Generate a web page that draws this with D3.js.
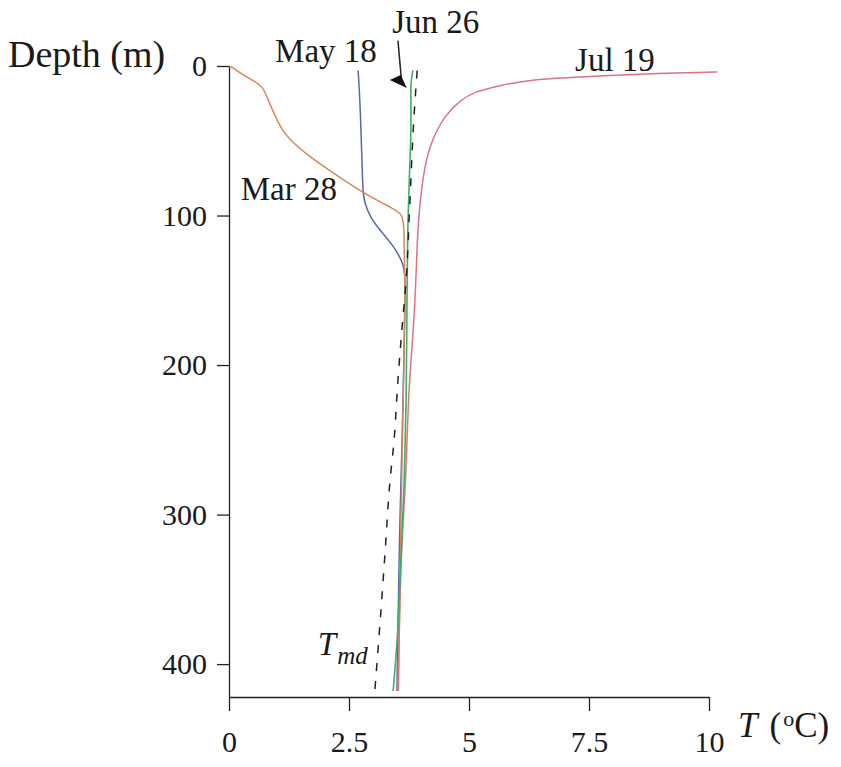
<!DOCTYPE html>
<html>
<head>
<meta charset="utf-8">
<script src="https://cdn.jsdelivr.net/npm/d3@7.9.0/dist/d3.min.js"></script>
<style>
  body { margin: 0; background: #fff; }
  svg text { font-family: "Liberation Serif", "Times New Roman", serif; fill: #1a1a1a; }
</style>
</head>
<body>
<svg id="chart" width="841" height="767"></svg>
<script>
// temperature (deg C) and depth (m) pairs
const mar28 = [[0,0],[0.08,1],[0.33,7],[0.71,13],[0.79,21],[1.02,38],[1.21,48],[1.69,61],[2.1,70],
  [2.79,85],[3.46,96],[3.6,99],[3.65,106],[3.65,130],[3.67,150],[3.65,190],[3.58,300],[3.53,418]];
const may18 = [[2.69,3],[2.73,23],[2.77,63],[2.79,85],[2.83,92],[2.94,101],[3.15,110],[3.42,120],
  [3.6,130],[3.67,137],[3.67,157],[3.63,223],[3.54,324],[3.5,418]];
const jun26 = [[3.83,3],[3.79,14],[3.79,40],[3.77,63],[3.73,103],[3.71,150],[3.69,223],[3.65,277],
  [3.58,331],[3.5,385],[3.42,418]];
const jul19 = [[10.17,4],[8.77,5],[7.52,7],[6.27,9],[5.65,13],[5.13,17],[4.81,23],[4.5,33],[4.23,49],
  [4.08,66],[3.98,90],[3.92,116],[3.88,157],[3.81,190],[3.73,223],[3.69,277],[3.58,324],[3.52,418]];
const tmd = [[3.92,3],[3.85,36],[3.77,90],[3.69,143],[3.6,177],[3.52,210],[3.44,250],[3.35,279],
  [3.25,326],[3.15,371],[3.04,417]];

const xTicks = [0, 2.5, 5, 7.5, 10];
const yTicks = [0, 100, 200, 300, 400];

const svg = d3.select('#chart');

const x = d3.scaleLinear().domain([0, 10]).range([229, 709]);
const y = d3.scaleLinear().domain([0, 422]).range([66, 697]);

// axes
const xAxis = svg.append('g')
  .attr('transform', `translate(0,${y(422)})`)
  .call(d3.axisBottom(x).tickValues(xTicks).tickSize(14).tickSizeOuter(0)
    .tickFormat(d => d));
const yAxis = svg.append('g')
  .attr('transform', `translate(${x(0)},0)`)
  .call(d3.axisLeft(y).tickValues(yTicks).tickSize(12).tickSizeOuter(0).tickPadding(10));

[xAxis, yAxis].forEach(g => {
  g.select('.domain').attr('stroke', '#222').attr('stroke-width', 1.3);
  g.selectAll('.tick line').attr('stroke', '#222').attr('stroke-width', 1.3);
  g.selectAll('.tick text').attr('font-size', 30).attr('font-family', '"Liberation Serif", serif').attr('fill', '#1a1a1a');
});
xAxis.selectAll('.tick text').attr('y', 55).attr('dy', 0);

// profiles
const line = d3.line().x(d => x(d[0])).y(d => y(d[1])).curve(d3.curveMonotoneY);
const smooth = d3.line().x(d => x(d[0])).y(d => y(d[1])).curve(d3.curveBasis);

svg.append('path').attr('d', smooth(may18)).attr('fill', 'none').attr('stroke', '#5568a8').attr('stroke-width', 1.5);
svg.append('path').attr('d', smooth(mar28)).attr('fill', 'none').attr('stroke', '#d6895a').attr('stroke-width', 1.5);
svg.append('path').attr('d', smooth(jul19)).attr('fill', 'none').attr('stroke', '#de7383').attr('stroke-width', 1.5);
svg.append('path').attr('d', line(jun26)).attr('fill', 'none').attr('stroke', '#3fae6a').attr('stroke-width', 1.6);
svg.append('path').attr('d', line(tmd)).attr('fill', 'none').attr('stroke', '#222')
  .attr('stroke-width', 1.5).attr('stroke-dasharray', '8,10');

// Jun 26 arrow
const arrowTail = [3.52, -17];
const arrowTip = [3.6, 12];
svg.append('line')
  .attr('x1', x(arrowTail[0])).attr('y1', y(arrowTail[1]))
  .attr('x2', x(arrowTip[0])).attr('y2', y(arrowTip[1]))
  .attr('stroke', '#222').attr('stroke-width', 1.5);
const tx = x(arrowTip[0]), ty = y(arrowTip[1]);
svg.append('path')
  .attr('d', `M${tx + 5},${ty + 4} L${tx - 12},${ty - 4} L${tx - 1},${ty - 9} Z`)
  .attr('fill', '#111');

// labels
const labels = [
  { text: 'May 18', t: 3.08, d: -2.7, anchor: 'end' },
  { text: 'Jun 26', t: 3.4, d: -22, anchor: 'start' },
  { text: 'Jul 19', t: 7.21, d: 3.5, anchor: 'start' },
  { text: 'Mar 28', t: 2.25, d: 89.6, anchor: 'end' }
];
labels.forEach(l => {
  svg.append('text')
    .attr('x', x(l.t)).attr('y', y(l.d))
    .attr('text-anchor', l.anchor)
    .attr('font-size', 33)
    .text(l.text);
});

const tmdLabel = svg.append('text')
  .attr('x', x(1.85)).attr('y', y(394))
  .attr('font-size', 33).attr('font-style', 'italic');
tmdLabel.append('tspan').text('T');
tmdLabel.append('tspan').attr('font-size', 25).attr('dy', 9).attr('dx', 1).text('md');

svg.append('text')
  .attr('x', 8).attr('y', y(0) + 1)
  .attr('font-size', 38)
  .text('Depth (m)');

const xLabel = svg.append('text')
  .attr('x', 738).attr('y', 737)
  .attr('font-size', 35);
xLabel.append('tspan').attr('font-style', 'italic').text('T');
xLabel.append('tspan').attr('dx', 12).text('(');
xLabel.append('tspan').attr('font-size', 22).attr('dy', -11).attr('dx', 2).text('o');
xLabel.append('tspan').attr('dy', 11).text('C)');
</script>
</body>
</html>
